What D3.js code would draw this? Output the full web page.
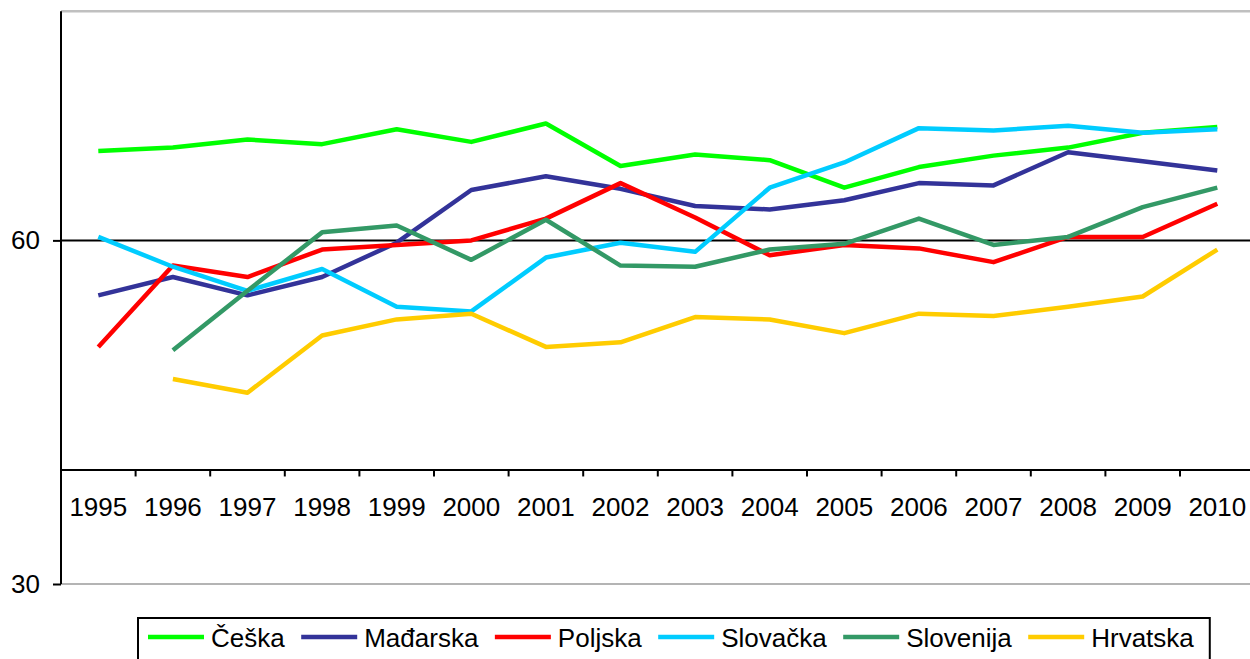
<!DOCTYPE html>
<html>
<head>
<meta charset="utf-8">
<script src="https://cdn.jsdelivr.net/npm/d3@7"></script>
<style>
  html, body { margin: 0; padding: 0; background: #fff; }
  svg { display: block; font-family: Arial, "Liberation Sans", sans-serif; }
</style>
</head>
<body>
<svg id="chart" width="1250" height="659"></svg>
<script>
// Years on the category axis
const years = ["1995","1996","1997","1998","1999","2000","2001","2002","2003","2004","2005","2006","2007","2008","2009","2010"];

// Country series (null = no value for that year)
const ceska     = [67.8, 68.1, 68.8, 68.4, 69.7, 68.6, 70.2, 66.5, 67.5, 67.0, 64.6, 66.4, 67.4, 68.1, 69.4, 69.9];
const madjarska = [55.2, 56.8, 55.2, 56.8, 59.8, 64.4, 65.6, 64.5, 63.0, 62.7, 63.5, 65.0, 64.8, 67.7, 66.9, 66.1];
const poljska   = [50.7, 57.8, 56.8, 59.2, 59.6, 60.0, 61.9, 65.0, 62.0, 58.7, 59.6, 59.3, 58.1, 60.3, 60.3, 63.2];
const slovacka  = [60.3, 57.7, 55.6, 57.5, 54.2, 53.8, 58.5, 59.8, 59.0, 64.6, 66.8, 69.8, 69.6, 70.0, 69.4, 69.7];
const slovenija = [null, 50.4, 55.6, 60.7, 61.3, 58.3, 61.8, 57.8, 57.7, 59.2, 59.7, 61.9, 59.6, 60.3, 62.9, 64.6];
const hrvatska  = [null, 47.9, 46.7, 51.7, 53.1, 53.6, 50.7, 51.1, 53.3, 53.1, 51.9, 53.6, 53.4, 54.2, 55.1, 59.2];

const seriesNames  = ["Češka", "Mađarska", "Poljska", "Slovačka", "Slovenija", "Hrvatska"];
const seriesValues = [ceska, madjarska, poljska, slovacka, slovenija, hrvatska];
const seriesColors = ["#00ff00", "#333399", "#ff0000", "#00ccff", "#339966", "#ffcc00"];

// Value axis: 30..80, labelled every 30, category axis crossing at 40
const yDomain = [30, 80];
const yTicks = [30, 60];
const xCross = 40;
const gridValue = 60;

const svg = d3.select("#chart");
const fontSize = 26;

const plotLeft = 61, plotTop = 11.3, plotBottom = 584;
const bandW = 74.6;

const x = d3.scaleBand().domain(years).range([plotLeft, plotLeft + bandW * years.length]).paddingInner(0).paddingOuter(0);
const y = d3.scaleLinear().domain(yDomain).range([plotBottom, plotTop]);
const plotRight = x.range()[1];

// Plot area frame (grey)
svg.append("line").attr("x1", plotLeft).attr("x2", plotRight).attr("y1", y(yDomain[1])).attr("y2", y(yDomain[1]))
  .attr("stroke", "#c0c0c0").attr("stroke-width", 2.5);
svg.append("line").attr("x1", plotLeft).attr("x2", plotRight).attr("y1", y(yDomain[0])).attr("y2", y(yDomain[0]))
  .attr("stroke", "#b4b4b4").attr("stroke-width", 2);

// Major gridline
svg.append("line").attr("x1", plotLeft).attr("x2", plotRight).attr("y1", y(gridValue)).attr("y2", y(gridValue))
  .attr("stroke", "#000").attr("stroke-width", 2);

// Value axis
const yAxis = svg.append("g").attr("transform", `translate(${plotLeft},0)`)
  .call(d3.axisLeft(y).tickValues(yTicks).tickSize(8).tickPadding(13).tickFormat(d3.format("d")));
yAxis.select(".domain").attr("d", `M0,${y(yDomain[1])}V${y(yDomain[0])}`).attr("stroke", "#000").attr("stroke-width", 2);
yAxis.selectAll(".tick line").attr("stroke", "#000").attr("stroke-width", 2);
yAxis.selectAll(".tick text").attr("font-size", fontSize).attr("font-family", "Arial, 'Liberation Sans', sans-serif")
  .attr("fill", "#000").attr("dy", "0.32em");

// Category axis, crossing at xCross
const xAxisY = y(xCross);
const xAxis = svg.append("g").attr("transform", `translate(0,${xAxisY})`)
  .call(d3.axisBottom(x).tickSize(0).tickSizeOuter(0));
xAxis.select(".domain").attr("stroke", "#000").attr("stroke-width", 2);
xAxis.selectAll(".tick text").attr("font-size", fontSize).attr("font-family", "Arial, 'Liberation Sans', sans-serif")
  .attr("fill", "#000").attr("y", 47).attr("dy", 0);
// tick marks sit between categories
xAxis.selectAll(".boundary").data(years.slice(1)).join("line").attr("class", "boundary")
  .attr("x1", d => x(d)).attr("x2", d => x(d)).attr("y1", 0).attr("y2", 7)
  .attr("stroke", "#000").attr("stroke-width", 2);

// Series lines
const line = d3.line()
  .defined(d => d.v != null)
  .x(d => x(d.year) + x.bandwidth() / 2)
  .y(d => y(d.v));

seriesValues.forEach((vals, i) => {
  const pts = years.map((yr, j) => ({ year: yr, v: vals[j] }));
  svg.append("path").datum(pts)
    .attr("fill", "none").attr("stroke", seriesColors[i]).attr("stroke-width", 4.5)
    .attr("stroke-linejoin", "round").attr("d", line);
});

// Legend
const legendTop = 618, legendLeft = 138;
const legend = svg.append("g");
const box = legend.append("rect").attr("x", legendLeft).attr("y", legendTop).attr("height", 60)
  .attr("fill", "#fff").attr("stroke", "#000").attr("stroke-width", 2);
let cx = 148;
const sampleY = 637, textBase = 646.5;
seriesNames.forEach((name, i) => {
  legend.append("line").attr("x1", cx).attr("x2", cx + 56).attr("y1", sampleY).attr("y2", sampleY)
    .attr("stroke", seriesColors[i]).attr("stroke-width", 4.5);
  const t = legend.append("text").attr("x", cx + 63).attr("y", textBase)
    .attr("font-size", fontSize).attr("fill", "#000").text(name);
  const w = t.node().getComputedTextLength();
  cx = cx + 63 + w + (i < seriesNames.length - 1 ? 16.5 : 0);
});
box.attr("width", cx + 16 - legendLeft);
</script>
</body>
</html>
